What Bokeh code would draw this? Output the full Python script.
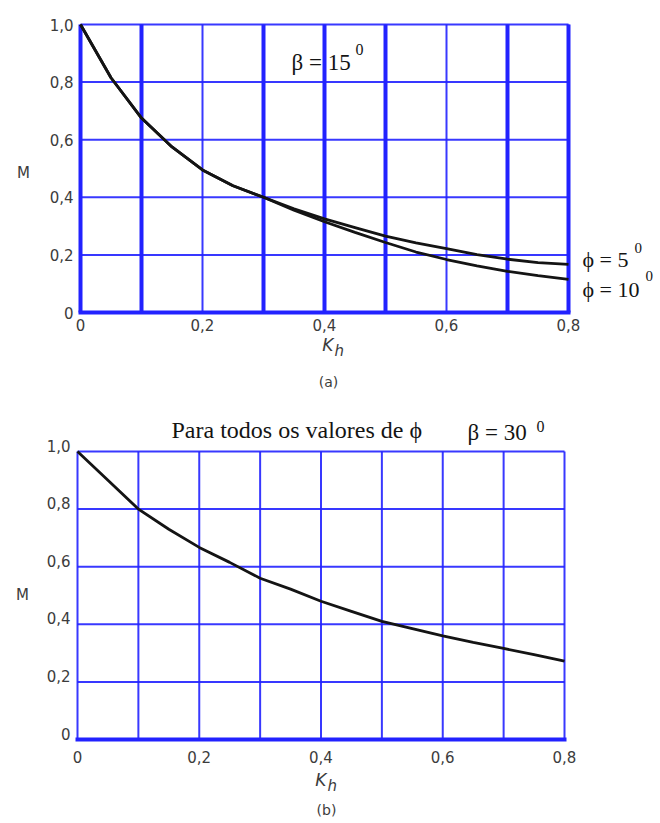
from bokeh.plotting import figure
from bokeh.models import Range1d, FixedTicker, Label, CustomJSTickFormatter
from bokeh.layouts import column
from bokeh.embed import file_html
from bokeh.resources import INLINE

# ---------------- data ----------------
kh = [0.0, 0.05, 0.10, 0.15, 0.20, 0.25, 0.30, 0.35, 0.40, 0.45, 0.50,
      0.55, 0.60, 0.65, 0.70, 0.75, 0.80]
# (a) beta = 15 deg
m_a_phi5 = [1.0, 0.815, 0.675, 0.575, 0.495, 0.44, 0.40, 0.36, 0.325, 0.295,
            0.265, 0.242, 0.222, 0.201, 0.185, 0.173, 0.167]
m_a_phi10 = [1.0, 0.815, 0.675, 0.575, 0.495, 0.44, 0.40, 0.355, 0.315, 0.278,
             0.243, 0.21, 0.184, 0.162, 0.143, 0.128, 0.115]
# (b) beta = 30 deg, all phi
m_b = [1.0, 0.90, 0.80, 0.73, 0.667, 0.615, 0.56, 0.522, 0.48, 0.445, 0.41,
       0.385, 0.36, 0.337, 0.316, 0.295, 0.272]

x_ticks = [0.0, 0.2, 0.4, 0.6, 0.8]
y_ticks = [0.0, 0.2, 0.4, 0.6, 0.8, 1.0]
grid_x = [0.0, 0.1, 0.2, 0.3, 0.4, 0.5, 0.6, 0.7, 0.8]
grid_y = [0.2, 0.4, 0.6, 0.8, 1.0]
grid_x_thick_a = [0.0, 0.1, 0.3, 0.4, 0.5, 0.7, 0.8]
grid_y_thick = [0.0]
X_MAX = 0.8
Y_MAX = 1.0

BLUE = "#2222ff"
INK = "#141414"
TICKC = "#3c3c3c"
SERIF = "Liberation Serif"
SANS = "DejaVu Sans"
W = 660

fmt = CustomJSTickFormatter(code="return tick == 0 ? '0' : tick.toFixed(1).replace('.', ',');")


class Chart:
    def __init__(self, height, x0, x8, y1, y0, xlab_standoff, ylab_shift_px=0.0):
        self.sx = (x8 - x0) / X_MAX
        self.sy = (y0 - y1) / Y_MAX
        self.x0, self.y0 = x0, y0
        p = figure(width=W, height=height, output_backend="svg", toolbar_location=None,
                   x_range=Range1d(-x0 / self.sx, (W - x0) / self.sx),
                   y_range=Range1d((y0 - height) / self.sy, y0 / self.sy),
                   min_border=0, min_border_left=0, min_border_right=0,
                   min_border_top=0, min_border_bottom=0)
        p.outline_line_color = None
        p.background_fill_color = "white"
        p.border_fill_color = "white"
        p.xgrid.visible = False
        p.ygrid.visible = False
        d = ylab_shift_px / self.sy
        p.extra_y_ranges = {"lab": Range1d(p.y_range.start - d, p.y_range.end - d)}
        p.yaxis[0].y_range_name = "lab"
        for ax in (p.xaxis[0], p.yaxis[0]):
            ax.fixed_location = 0
            ax.axis_line_color = None
            ax.major_tick_line_color = None
            ax.minor_tick_line_color = None
            ax.major_tick_in = 0
            ax.major_tick_out = 0
            ax.formatter = fmt
            ax.major_label_text_font = SANS
            ax.major_label_text_font_size = "15px"
            ax.major_label_text_color = TICKC
        p.xaxis[0].ticker = FixedTicker(ticks=x_ticks)
        p.yaxis[0].ticker = FixedTicker(ticks=y_ticks)
        p.yaxis[0].major_label_standoff = 7
        p.xaxis[0].major_label_standoff = xlab_standoff
        self.p = p

    def dx(self, px):
        return (px - self.x0) / self.sx

    def dy(self, py):
        return (self.y0 - py) / self.sy

    def grid(self, xs_thin, ys_thin, xs_thick, ys_thick):
        p = self.p
        p.segment(x0=xs_thin, x1=xs_thin, y0=[0.0] * len(xs_thin), y1=[Y_MAX] * len(xs_thin),
                  line_color=BLUE, line_width=2, line_alpha=0.9)
        p.segment(x0=[0.0] * len(ys_thin), x1=[X_MAX] * len(ys_thin), y0=ys_thin, y1=ys_thin,
                  line_color=BLUE, line_width=2, line_alpha=0.9)
        if xs_thick:
            p.segment(x0=xs_thick, x1=xs_thick, y0=[0.0] * len(xs_thick), y1=[Y_MAX] * len(xs_thick),
                      line_color=BLUE, line_width=4)
        if ys_thick:
            p.segment(x0=[0.0] * len(ys_thick), x1=[X_MAX] * len(ys_thick), y0=ys_thick, y1=ys_thick,
                      line_color=BLUE, line_width=4, line_cap="square")

    def lab(self, px, py, text, size, font=SERIF, align="left", style="normal", color=INK):
        self.p.add_layout(Label(x=self.dx(px), y=self.dy(py), text=text, text_font=font,
                                text_font_size=size, text_font_style=style,
                                text_align=align, text_baseline="middle", text_color=color))

    def khlabel(self, px, py):
        self.lab(px, py, "K", "17px", font=SANS, align="right", style="italic", color=TICKC)
        self.lab(px + 1, py + 6, "h", "15px", font=SANS, align="left", style="italic", color=TICKC)


# ---------------- chart (a) ----------------
ca = Chart(395, x0=80, x8=568, y1=24, y0=312, xlab_standoff=6)
ca.grid(grid_x, grid_y, grid_x_thick_a, grid_y_thick)
ca.p.line(kh, m_a_phi5, line_color=INK, line_width=2.8)
ca.p.line(kh, m_a_phi10, line_color=INK, line_width=2.8)
ca.lab(291, 62, "\u03b2 = 15", "23px")
ca.lab(355, 49, "0", "16px")
ca.lab(582, 259, "\u03d5 = 5", "22px")
ca.lab(634, 247, "0", "15px")
ca.lab(582, 289, "\u03d5 = 10", "22px")
ca.lab(645, 275, "0", "15px")
ca.lab(23, 172, "M", "15px", font=SANS, align="center", color=TICKC)
ca.khlabel(333, 344)
ca.lab(328, 381, "(a)", "14px", font=SANS, align="center", color=TICKC)

# ---------------- chart (b) ----------------
cb = Chart(427, x0=77, x8=564, y1=56, y0=344, xlab_standoff=11, ylab_shift_px=6)
cb.grid(grid_x, grid_y, [], grid_y_thick)
cb.p.line(kh, m_b, line_color=INK, line_width=2.8)
cb.lab(171, 34, "Para todos os valores de \u03d5", "24px")
cb.lab(467, 37, "\u03b2 = 30", "23px")
cb.lab(536, 31, "0", "16px")
cb.lab(22, 199, "M", "15px", font=SANS, align="center", color=TICKC)
cb.khlabel(326, 384)
cb.lab(326, 414, "(b)", "14px", font=SANS, align="center", color=TICKC)

layout = column(ca.p, cb.p)
open("out.html", "w").write(file_html(layout, INLINE))
